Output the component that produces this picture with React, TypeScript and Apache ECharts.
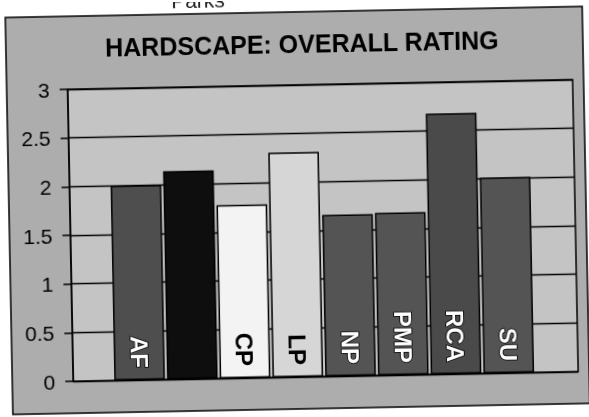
import React, { useEffect, useRef } from "react";
import * as echarts from "echarts";

const categories = ["AF", "", "CP", "LP", "NP", "PMP", "RCA", "SU"];
const ratings = [2.0, 2.14, 1.78, 2.31, 1.66, 1.67, 2.68, 2.01];
const barColors = ["#4e4e4e", "#0e0e0e", "#f3f3f3", "#d6d6d6", "#545454", "#545454", "#4a4a4a", "#545454"];
const labelColors = ["#ffffff", "#0e0e0e", "#000000", "#000000", "#ffffff", "#ffffff", "#ffffff", "#ffffff"];
const yMin = 0;
const yMax = 3;
const yStep = 0.5;
const titleText = "HARDSCAPE: OVERALL RATING";
const headerText = "Parks";

const FONT = '"Liberation Sans", Arial, sans-serif';

export default function App() {
  const ref = useRef<HTMLDivElement>(null);

  useEffect(() => {
    if (!ref.current) return;
    const chart = echarts.init(ref.current, null, { renderer: "svg" });
    const option: any = {
      animation: false,
      backgroundColor: "#ffffff",
      graphic: [
        {
          type: "rect",
          z: -10,
          shape: { x: 9, y: 12, width: 577, height: 397 },
          style: { fill: "#adadad", stroke: "#000", lineWidth: 1.5 },
        },
        {
          type: "text",
          z: 10,
          x: 305,
          y: 44,
          style: {
            text: titleText,
            fontSize: 25,
            fontWeight: "bold",
            fontFamily: FONT,
            fill: "#000",
            align: "center",
            verticalAlign: "middle",
          },
        },
        {
          type: "text",
          z: 10,
          x: 202,
          y: 9,
          style: {
            text: headerText,
            fontSize: 21,
            fontFamily: FONT,
            fill: "#222",
            align: "center",
            verticalAlign: "bottom",
          },
        },
      ],
      grid: [
        {
          left: 70,
          right: 14,
          top: 85,
          bottom: 40,
          show: true,
          backgroundColor: "#c4c4c4",
          borderColor: "#000",
          borderWidth: 1.5,
        },
        { left: 110, right: 57, top: 85, bottom: 40 },
      ],
      xAxis: [
        { type: "value", gridIndex: 0, show: false, min: 0, max: 1 },
        {
          type: "category",
          gridIndex: 1,
          data: categories,
          axisLine: { show: false },
          axisTick: { show: false },
          axisLabel: { show: false },
        },
      ],
      yAxis: [
        {
          type: "value",
          gridIndex: 0,
          min: yMin,
          max: yMax,
          interval: yStep,
          axisLine: { show: true, lineStyle: { color: "#000", width: 1.5 } },
          axisTick: { show: true, length: 8, lineStyle: { color: "#000", width: 1.5 } },
          axisLabel: { color: "#000", fontSize: 21, fontFamily: FONT, margin: 18 },
          splitLine: { show: true, lineStyle: { color: "#000", width: 1.3 } },
        },
        { type: "value", gridIndex: 1, min: yMin, max: yMax, show: false, splitLine: { show: false } },
      ],
      series: [
        {
          type: "bar",
          xAxisIndex: 1,
          yAxisIndex: 1,
          barCategoryGap: "4%",
          itemStyle: { borderColor: "#000", borderWidth: 1.5 },
          label: {
            show: true,
            formatter: "{b}",
            position: "insideBottom",
            rotate: -90,
            align: "right",
            verticalAlign: "middle",
            distance: 12,
            fontSize: 24,
            fontWeight: "bold",
            fontFamily: FONT,
          },
          data: ratings.map((v, i) => ({
            value: v,
            itemStyle: { color: barColors[i] },
            label: {
              color: labelColors[i],
              textBorderColor: labelColors[i] === "#ffffff" ? "#000" : "transparent",
              textBorderWidth: labelColors[i] === "#ffffff" ? 1.5 : 0,
            },
          })),
        },
      ],
    };
    chart.setOption(option);
    return () => chart.dispose();
  }, []);

  return (
    <div
      ref={ref}
      style={{
        position: "fixed",
        left: 0,
        top: 0,
        width: 589,
        height: 417,
        background: "#fff",
        transform: "rotate(-1.1deg)",
      }}
    />
  );
}
